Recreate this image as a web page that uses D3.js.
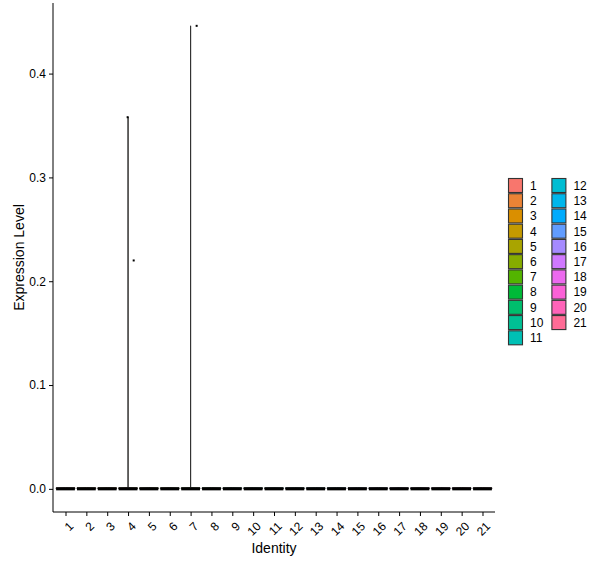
<!DOCTYPE html>
<html>
<head>
<meta charset="utf-8">
<script src="https://cdn.jsdelivr.net/npm/d3@7"></script>
<style>
  body { margin: 0; background: #fff; }
  text { font-family: "Liberation Sans", Arial, sans-serif; }
</style>
</head>
<body>
<svg id="chart" width="600" height="568"></svg>
<script>
// clusters on the x axis
const clusters = d3.range(1, 22).map(String);
// max expression per cluster (violin tail), 0 = all cells zero
const clusterMax = [0, 0, 0, 0.358, 0, 0, 0.446, 0, 0, 0, 0, 0, 0, 0, 0, 0, 0, 0, 0, 0, 0];
// non-zero cells: cluster, value, jitter offset (band units)
const pointCluster = ["4", "4", "7"];
const pointValue = [0.358, 0.22, 0.446];
const pointJitter = [-0.02, 0.27, 0.29];
const yTicks = [0, 0.1, 0.2, 0.3, 0.4];

const W = 600, H = 568;
const margin = {left: 53, right: 105, top: 3, bottom: 56};

// ggplot2 hue palette (polar LUV -> sRGB)
function hclLuv(h, c, l) {
  const hr = h * Math.PI / 180;
  const U = c * Math.cos(hr), V = c * Math.sin(hr);
  const Y = 100 * (l > 8 ? Math.pow((l + 16) / 116, 3) : l / 903.3);
  const un = 0.1978398, vn = 0.4683363;
  const u = U / (13 * l) + un, v = V / (13 * l) + vn;
  const X = 9.0 * Y * u / (4 * v);
  const Z = -X / 3 - 5 * Y + 3 * Y / v;
  const x = X / 100, y = Y / 100, z = Z / 100;
  const lin = [
    3.240479 * x - 1.537150 * y - 0.498535 * z,
    -0.969256 * x + 1.875992 * y + 0.041556 * z,
    0.055648 * x - 0.204043 * y + 1.057311 * z
  ];
  const g = lin.map(t => {
    t = t > 0.00304 ? 1.055 * Math.pow(t, 1 / 2.4) - 0.055 : 12.92 * t;
    return Math.round(255 * Math.max(0, Math.min(1, t)));
  });
  return d3.rgb(g[0], g[1], g[2]).formatHex();
}
const n = clusters.length;
const hues = d3.range(n).map(i => 15 + i * 360 / n);
const color = d3.scaleOrdinal(clusters, hues.map(h => hclLuv(h, 100, 65)));

const svg = d3.select("#chart");

const x = d3.scalePoint()
  .domain(clusters)
  .range([margin.left, W - margin.right])
  .padding(0.6);
const step = x.step();

const y = d3.scaleLinear()
  .domain([-0.0223, 0.468])
  .range([H - margin.bottom, margin.top]);

// violins: flat body at zero plus a thin tail up to the max value
const halfW = 0.45 * step;
const violinData = clusters.map((c, i) => {
  const top = Math.max(clusterMax[i], 0.001);
  return {c, pts: [
    {v: 0, w: 1},
    {v: 0.001, w: 1},
    {v: 0.0012, w: 0.005},
    {v: top, w: 0.005}
  ]};
});

svg.append("g")
  .selectAll("path")
  .data(violinData)
  .join("path")
  .attr("d", d => {
    const cx = x(d.c);
    const right = d.pts.map(p => [cx + p.w * halfW, y(p.v)]);
    const left = d.pts.slice().reverse().map(p => [cx - p.w * halfW, y(p.v)]);
    return d3.line()(right.concat(left)) + "Z";
  })
  .attr("fill", d => color(d.c))
  .attr("stroke", "#333333")
  .attr("stroke-width", 1);

// cells at zero (dense jitter band)
svg.append("g")
  .selectAll("rect")
  .data(clusters)
  .join("rect")
  .attr("x", d => x(d) - halfW)
  .attr("y", y(0) - 1.5)
  .attr("width", 2 * halfW)
  .attr("height", 3)
  .attr("fill", "#000");

// non-zero cells
svg.append("g")
  .selectAll("rect")
  .data(pointValue)
  .join("rect")
  .attr("x", (d, i) => x(pointCluster[i]) + pointJitter[i] * step - 1)
  .attr("y", d => y(d) - 1)
  .attr("width", 2)
  .attr("height", 2)
  .attr("fill", "#000");

// axes
const yAxis = svg.append("g")
  .attr("transform", `translate(${margin.left},0)`)
  .call(d3.axisLeft(y).tickValues(yTicks).tickFormat(d3.format(".1f")).tickSizeOuter(0).tickSize(4).tickPadding(3));
yAxis.select(".domain").attr("stroke", "#000").attr("d", `M0,${H - margin.bottom}V${margin.top}`);
yAxis.selectAll("text").attr("font-size", 12).attr("fill", "#000").attr("font-family", "Liberation Sans, Arial, sans-serif");

const xAxis = svg.append("g")
  .attr("transform", `translate(0,${H - margin.bottom})`)
  .call(d3.axisBottom(x).tickSizeOuter(0).tickSize(4));
xAxis.select(".domain").attr("stroke", "#000")
  .attr("d", `M${margin.left},0H${W - margin.right}`);
xAxis.selectAll("text")
  .attr("font-size", 12)
  .attr("fill", "#000")
  .attr("font-family", "Liberation Sans, Arial, sans-serif")
  .attr("text-anchor", "end")
  .attr("y", 0)
  .attr("dy", "0.72em")
  .attr("transform", "translate(2,9) rotate(-45)");

// axis titles
svg.append("text")
  .attr("x", (margin.left + W - margin.right) / 2)
  .attr("y", 553)
  .attr("text-anchor", "middle")
  .attr("font-size", 14)
  .text("Identity");

svg.append("text")
  .attr("transform", `translate(24,${(margin.top + H - margin.bottom) / 2}) rotate(-90)`)
  .attr("text-anchor", "middle")
  .attr("font-size", 14)
  .text("Expression Level");

// legend
const perCol = 11;
const keyPitch = 15.23, keySize = 14;
const legend = svg.append("g").attr("transform", "translate(508.5,178.5)");
const item = legend.selectAll("g")
  .data(clusters)
  .join("g")
  .attr("transform", (d, i) => `translate(${Math.floor(i / perCol) * 43.4},${(i % perCol) * keyPitch})`);
item.append("rect")
  .attr("width", keySize)
  .attr("height", keySize)
  .attr("fill", d => color(d))
  .attr("stroke", "#333333")
  .attr("stroke-width", 1.1);
item.append("text")
  .attr("x", 21.5)
  .attr("y", keySize / 2)
  .attr("dy", "0.36em")
  .attr("font-size", 12)
  .text(d => d);
</script>
</body>
</html>
